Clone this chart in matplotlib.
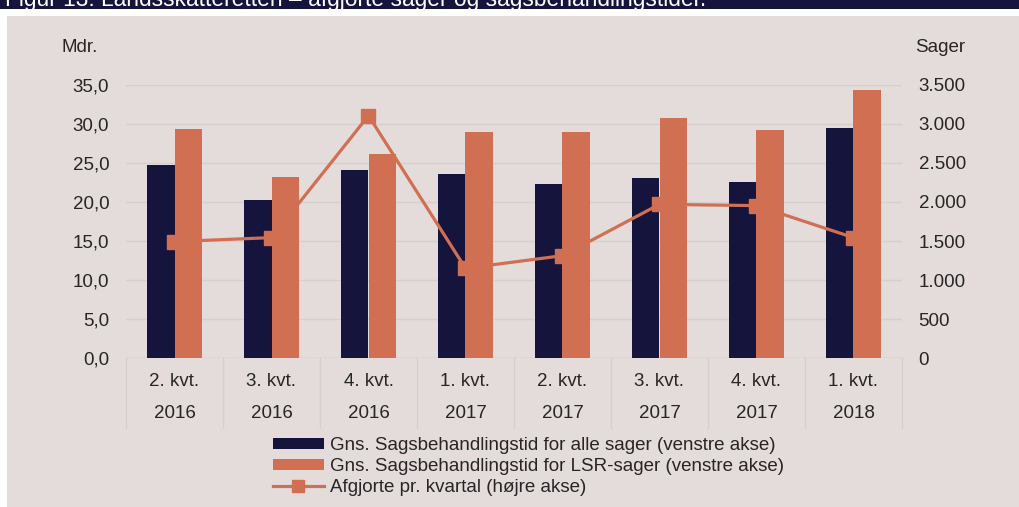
import matplotlib
matplotlib.use("Agg")
import matplotlib.pyplot as plt
from matplotlib.patches import Rectangle, Patch
from matplotlib.lines import Line2D
import matplotlib.transforms as mtransforms
import numpy as np

plt.rcParams['font.family'] = ['Liberation Sans', 'DejaVu Sans']

# data
quarters = ["2. kvt.", "3. kvt.", "4. kvt.", "1. kvt.", "2. kvt.", "3. kvt.", "4. kvt.", "1. kvt."]
years = ["2016", "2016", "2016", "2017", "2017", "2017", "2017", "2018"]
alle_sager = [24.7, 20.2, 24.1, 23.6, 22.3, 23.1, 22.5, 29.4]
lsr_sager = [29.3, 23.2, 26.1, 29.0, 28.9, 30.7, 29.2, 34.3]
afgjorte = [1493, 1544, 3104, 1151, 1313, 1970, 1953, 1544]

left_ticks = [0, 5, 10, 15, 20, 25, 30, 35]
right_ticks = [0, 500, 1000, 1500, 2000, 2500, 3000, 3500]

navy = "#15143c"
orange = "#d16f53"
bg = "#e3dcda"
txt = "#262626"
gridc = "#d3d0cf"
fs = 13.5

W, H = 1019, 507
fig = plt.figure(figsize=(W / 100, H / 100), dpi=100, facecolor="white")

# beige panel
fig.patches.append(Rectangle((7 / W, 0), 1 - 7 / W, 1 - 16 / H, transform=fig.transFigure,
                             facecolor=bg, edgecolor="none", zorder=-5))

# header bar with cut-off title
hax = fig.add_axes([0, 1 - 9 / H, 1, 9 / H])
hax.set_facecolor(navy)
hax.set_xticks([])
hax.set_yticks([])
for s in hax.spines.values():
    s.set_visible(False)
hax.text(5 / W, 0.3, "Figur 13: Landsskatteretten \u2013 afgjorte sager og sagsbehandlingstider.",
         color="white", fontsize=16.4, va="baseline", ha="left", transform=hax.transAxes, clip_on=True)

# main axes
x0, x1 = 126, 902
y_top, y_bot = 84.7, 358.3
ax = fig.add_axes([x0 / W, (H - y_bot) / H, (x1 - x0) / W, (y_bot - y_top) / H])
ax.set_facecolor("none")
x = np.arange(len(quarters))
bw = 0.28
ax.bar(x - bw / 2, alle_sager, bw, color=navy, zorder=2)
ax.bar(x + bw / 2, lsr_sager, bw, color=orange, zorder=2)
ax.set_xlim(-0.5, len(quarters) - 0.5)
ax.set_ylim(0, 35)
ax.set_yticks(left_ticks)
ax.set_yticklabels([f"{v:.1f}".replace(".", ",") for v in left_ticks])
ax.tick_params(axis="y", length=0, pad=12, labelsize=fs, labelcolor=txt)
ax.set_xticks([])
ax.grid(axis="y", color=gridc, linewidth=1, zorder=0)
for s in ax.spines.values():
    s.set_visible(False)
ax.axhline(0, color=gridc, linewidth=1, zorder=1)

# category table below axis
trans = mtransforms.blended_transform_factory(ax.transData, ax.transAxes)
depth = 70 / (y_bot - y_top)
for b in np.arange(-0.5, len(quarters), 1.0):
    ax.plot([b, b], [0, -depth], color=gridc, linewidth=1, transform=trans, clip_on=False)
for i in range(len(quarters)):
    ax.text(i, -23 / (y_bot - y_top), quarters[i], transform=trans, ha="center", va="center",
            fontsize=fs, color=txt)
    ax.text(i, -55 / (y_bot - y_top), years[i], transform=trans, ha="center", va="center",
            fontsize=fs, color=txt)

# right axis
ax2 = ax.twinx()
ax2.plot(x, afgjorte, color=orange, linewidth=2.3, marker="s", markersize=9.5, zorder=3)
ax2.set_ylim(0, 3500)
ax2.set_yticks(right_ticks)
ax2.set_yticklabels([f"{v:,}".replace(",", ".") for v in right_ticks])
ax2.tick_params(axis="y", length=0, pad=12, labelsize=fs, labelcolor=txt)
for s in ax2.spines.values():
    s.set_visible(False)

fig.text(80 / W, 1 - 47 / H, "Mdr.", ha="center", va="center", fontsize=fs, color=txt)
fig.text(915 / W, 1 - 47 / H, "Sager", ha="left", va="center", fontsize=fs, color=txt)

handles = [
    Patch(facecolor=navy, edgecolor="none"),
    Patch(facecolor=orange, edgecolor="none"),
    Line2D([], [], color=orange, linewidth=2.3, marker="s", markersize=8),
]
labels = [
    "Gns. Sagsbehandlingstid for alle sager (venstre akse)",
    "Gns. Sagsbehandlingstid for LSR-sager (venstre akse)",
    "Afgjorte pr. kvartal (h\u00f8jre akse)",
]
leg = fig.legend(handles, labels, loc="upper left", bbox_to_anchor=(273 / W, 1 - 437 / H),
                 frameon=False, fontsize=fs, handlelength=2.7, handleheight=0.55,
                 handletextpad=0.35, labelspacing=0.22, borderpad=0, borderaxespad=0)
for t in leg.get_texts():
    t.set_color(txt)

fig.savefig("out.png", dpi=100, facecolor="white")
